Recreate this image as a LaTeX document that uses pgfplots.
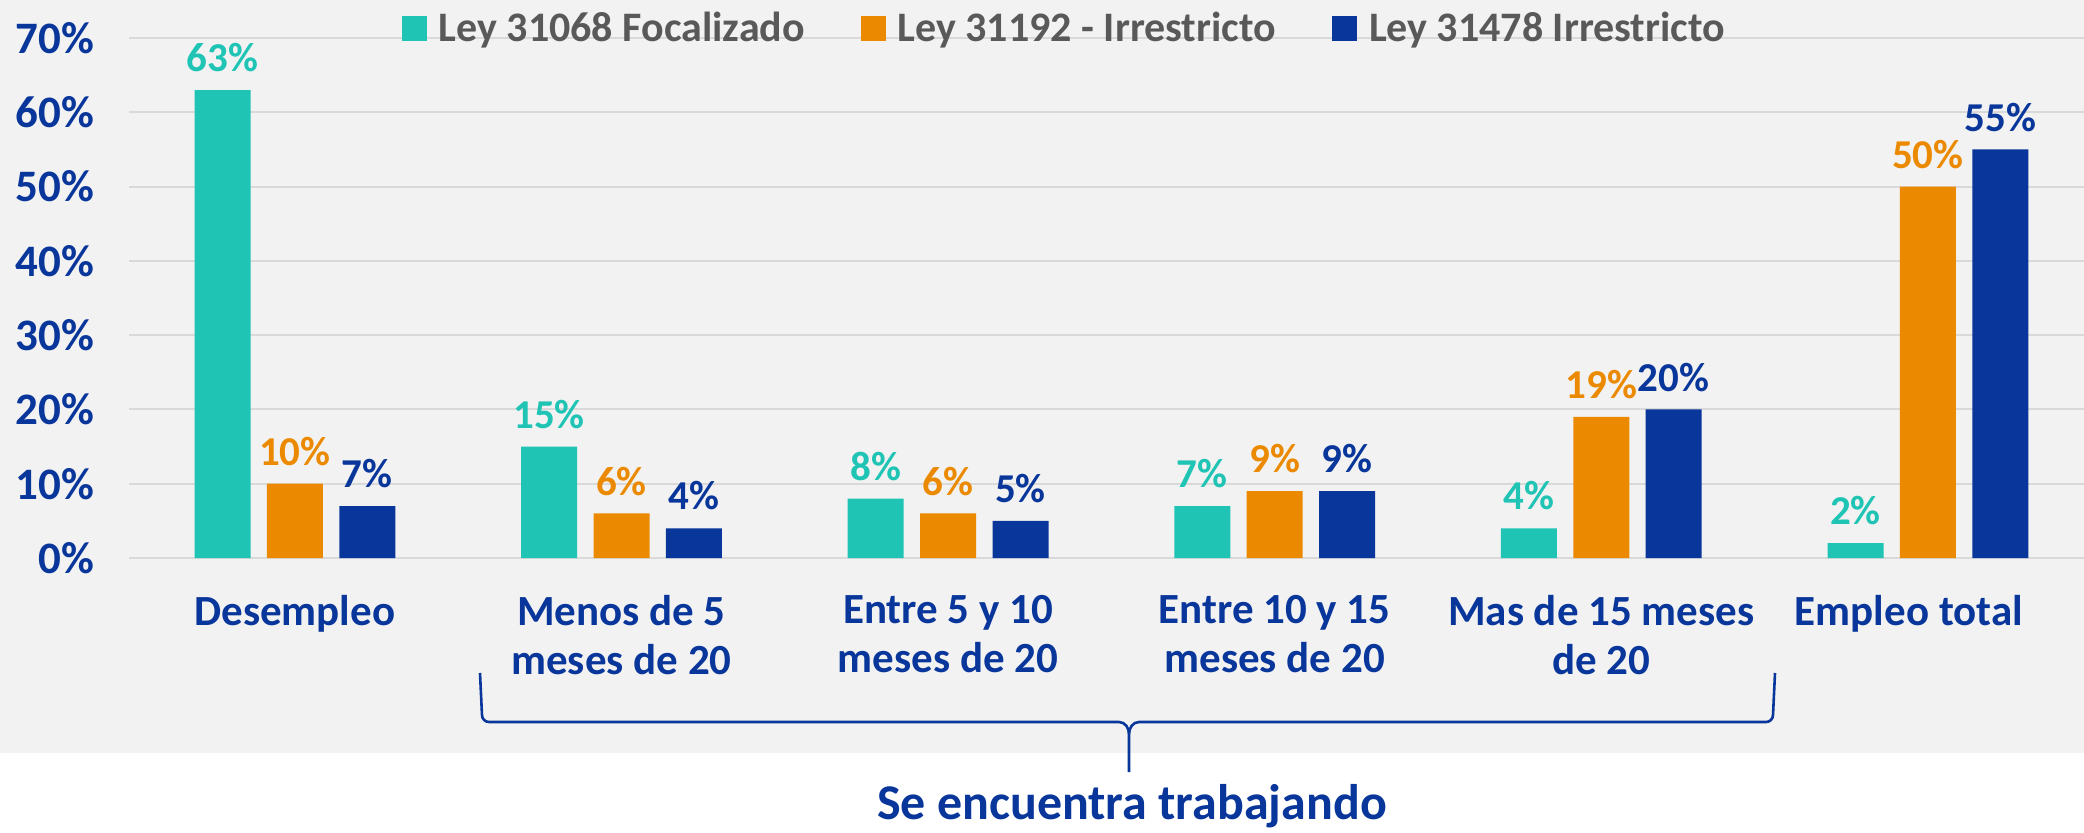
\documentclass[border=0pt]{standalone}
\usepackage{pgfplots}
\pgfplotsset{compat=1.18}
\usepackage{pgfplotstable}
\usepackage{fontspec}
\setmainfont{Carlito}
\definecolor{cteal}{RGB}{31,196,180}
\definecolor{corange}{RGB}{235,138,0}
\definecolor{cblue}{RGB}{9,54,154}
\definecolor{cgray}{RGB}{89,89,89}
\definecolor{cbg}{RGB}{242,242,242}
\definecolor{cgrid}{RGB}{217,217,217}
\pgfplotstableread{
x a b c
0 63 10 7
1 15 6 4
2 8 6 5
3 7 9 9
4 4 19 20
5 2 50 55
}\datatable
\begin{document}
\begin{tikzpicture}
\useasboundingbox (-64.5pt,-137pt) rectangle (977.5pt,279pt);
\fill[white] (-64.5pt,-137pt) rectangle (977.5pt,279pt);
\fill[cbg] (-64.5pt,-97.5pt) rectangle (977.5pt,279pt);
\begin{axis}[
  scale only axis, width=977.5pt, height=260pt,
  at={(0pt,0pt)}, anchor=south west,
  xmin=-0.508, xmax=5.478, ymin=0, ymax=70,
  ybar=8.2pt, bar width=28pt,
  axis line style={draw=none},
  major tick length=0pt,
  ymajorgrids, grid style={cgrid, line width=1pt},
  ytick={0,10,...,70},
  yticklabel={\pgfmathprintnumber{\tick}\%},
  /pgf/number format/assume math mode=true,
  yticklabel style={font=\fontsize{22.5}{26}\selectfont\bfseries, text=cblue, xshift=-14pt},
  xtick={0,1,2,3,4,5},
  xticklabels={Desempleo, Menos de 5\\meses de 20, Entre 5 y 10\\meses de 20, Entre 10 y 15\\meses de 20, Mas de 15 meses\\de 20, Empleo total\hspace*{19pt}},
  xticklabel style={align=center, font=\fontsize{21.5}{24.5}\selectfont\bfseries, text=cblue, yshift=-15pt},
  nodes near coords={\pgfmathprintnumber{\pgfplotspointmeta}\%},
  every node near coord/.append style={font=\fontsize{20.5}{24}\selectfont\bfseries, yshift=5.5pt},
  legend style={at={(0.479,1.019)}, anchor=center, draw=none, fill=none,
    font=\fontsize{21}{24}\selectfont\bfseries, text=cgray,
    /tikz/every odd column/.append style={column sep=4pt},
    /tikz/every even column/.append style={column sep=26pt}},
  legend columns=3,
  clip=false,
]
\addplot[fill=cteal, draw=none, every node near coord/.append style={text=cteal},
  legend image code/.code={\fill[cteal] (0pt,-6.25pt) rectangle (12.5pt,6.25pt);}]
  table[x=x, y=a] {\datatable};
\addplot[fill=corange, draw=none, every node near coord/.append style={text=corange},
  legend image code/.code={\fill[corange] (0pt,-6.25pt) rectangle (12.5pt,6.25pt);}]
  table[x=x, y=b] {\datatable};
\addplot[fill=cblue, draw=none, every node near coord/.append style={text=cblue},
  legend image code/.code={\fill[cblue] (0pt,-6.25pt) rectangle (12.5pt,6.25pt);}]
  table[x=x, y=c] {\datatable};
\legend{Ley 31068 Focalizado, Ley 31192 - Irrestricto, Ley 31478 Irrestricto}
\end{axis}
\draw[cblue, line width=1.3pt, line join=round]
  (175.5pt,-57.5pt) -- (176.5pt,-78.5pt) to[out=-90,in=180] (180pt,-82pt) -- (495pt,-82pt)
  to[out=0,in=90] (500pt,-88pt) -- (500pt,-107pt);
\draw[cblue, line width=1.3pt, line join=round]
  (823pt,-57.5pt) -- (822pt,-78.5pt) to[out=-90,in=0] (818.5pt,-82pt) -- (505pt,-82pt)
  to[out=180,in=90] (500pt,-88pt);
\node[anchor=base, text=cblue, font=\fontsize{25}{30}\selectfont\bfseries] at (501.5pt,-130.5pt) {Se encuentra trabajando};
\end{tikzpicture}
\end{document}
